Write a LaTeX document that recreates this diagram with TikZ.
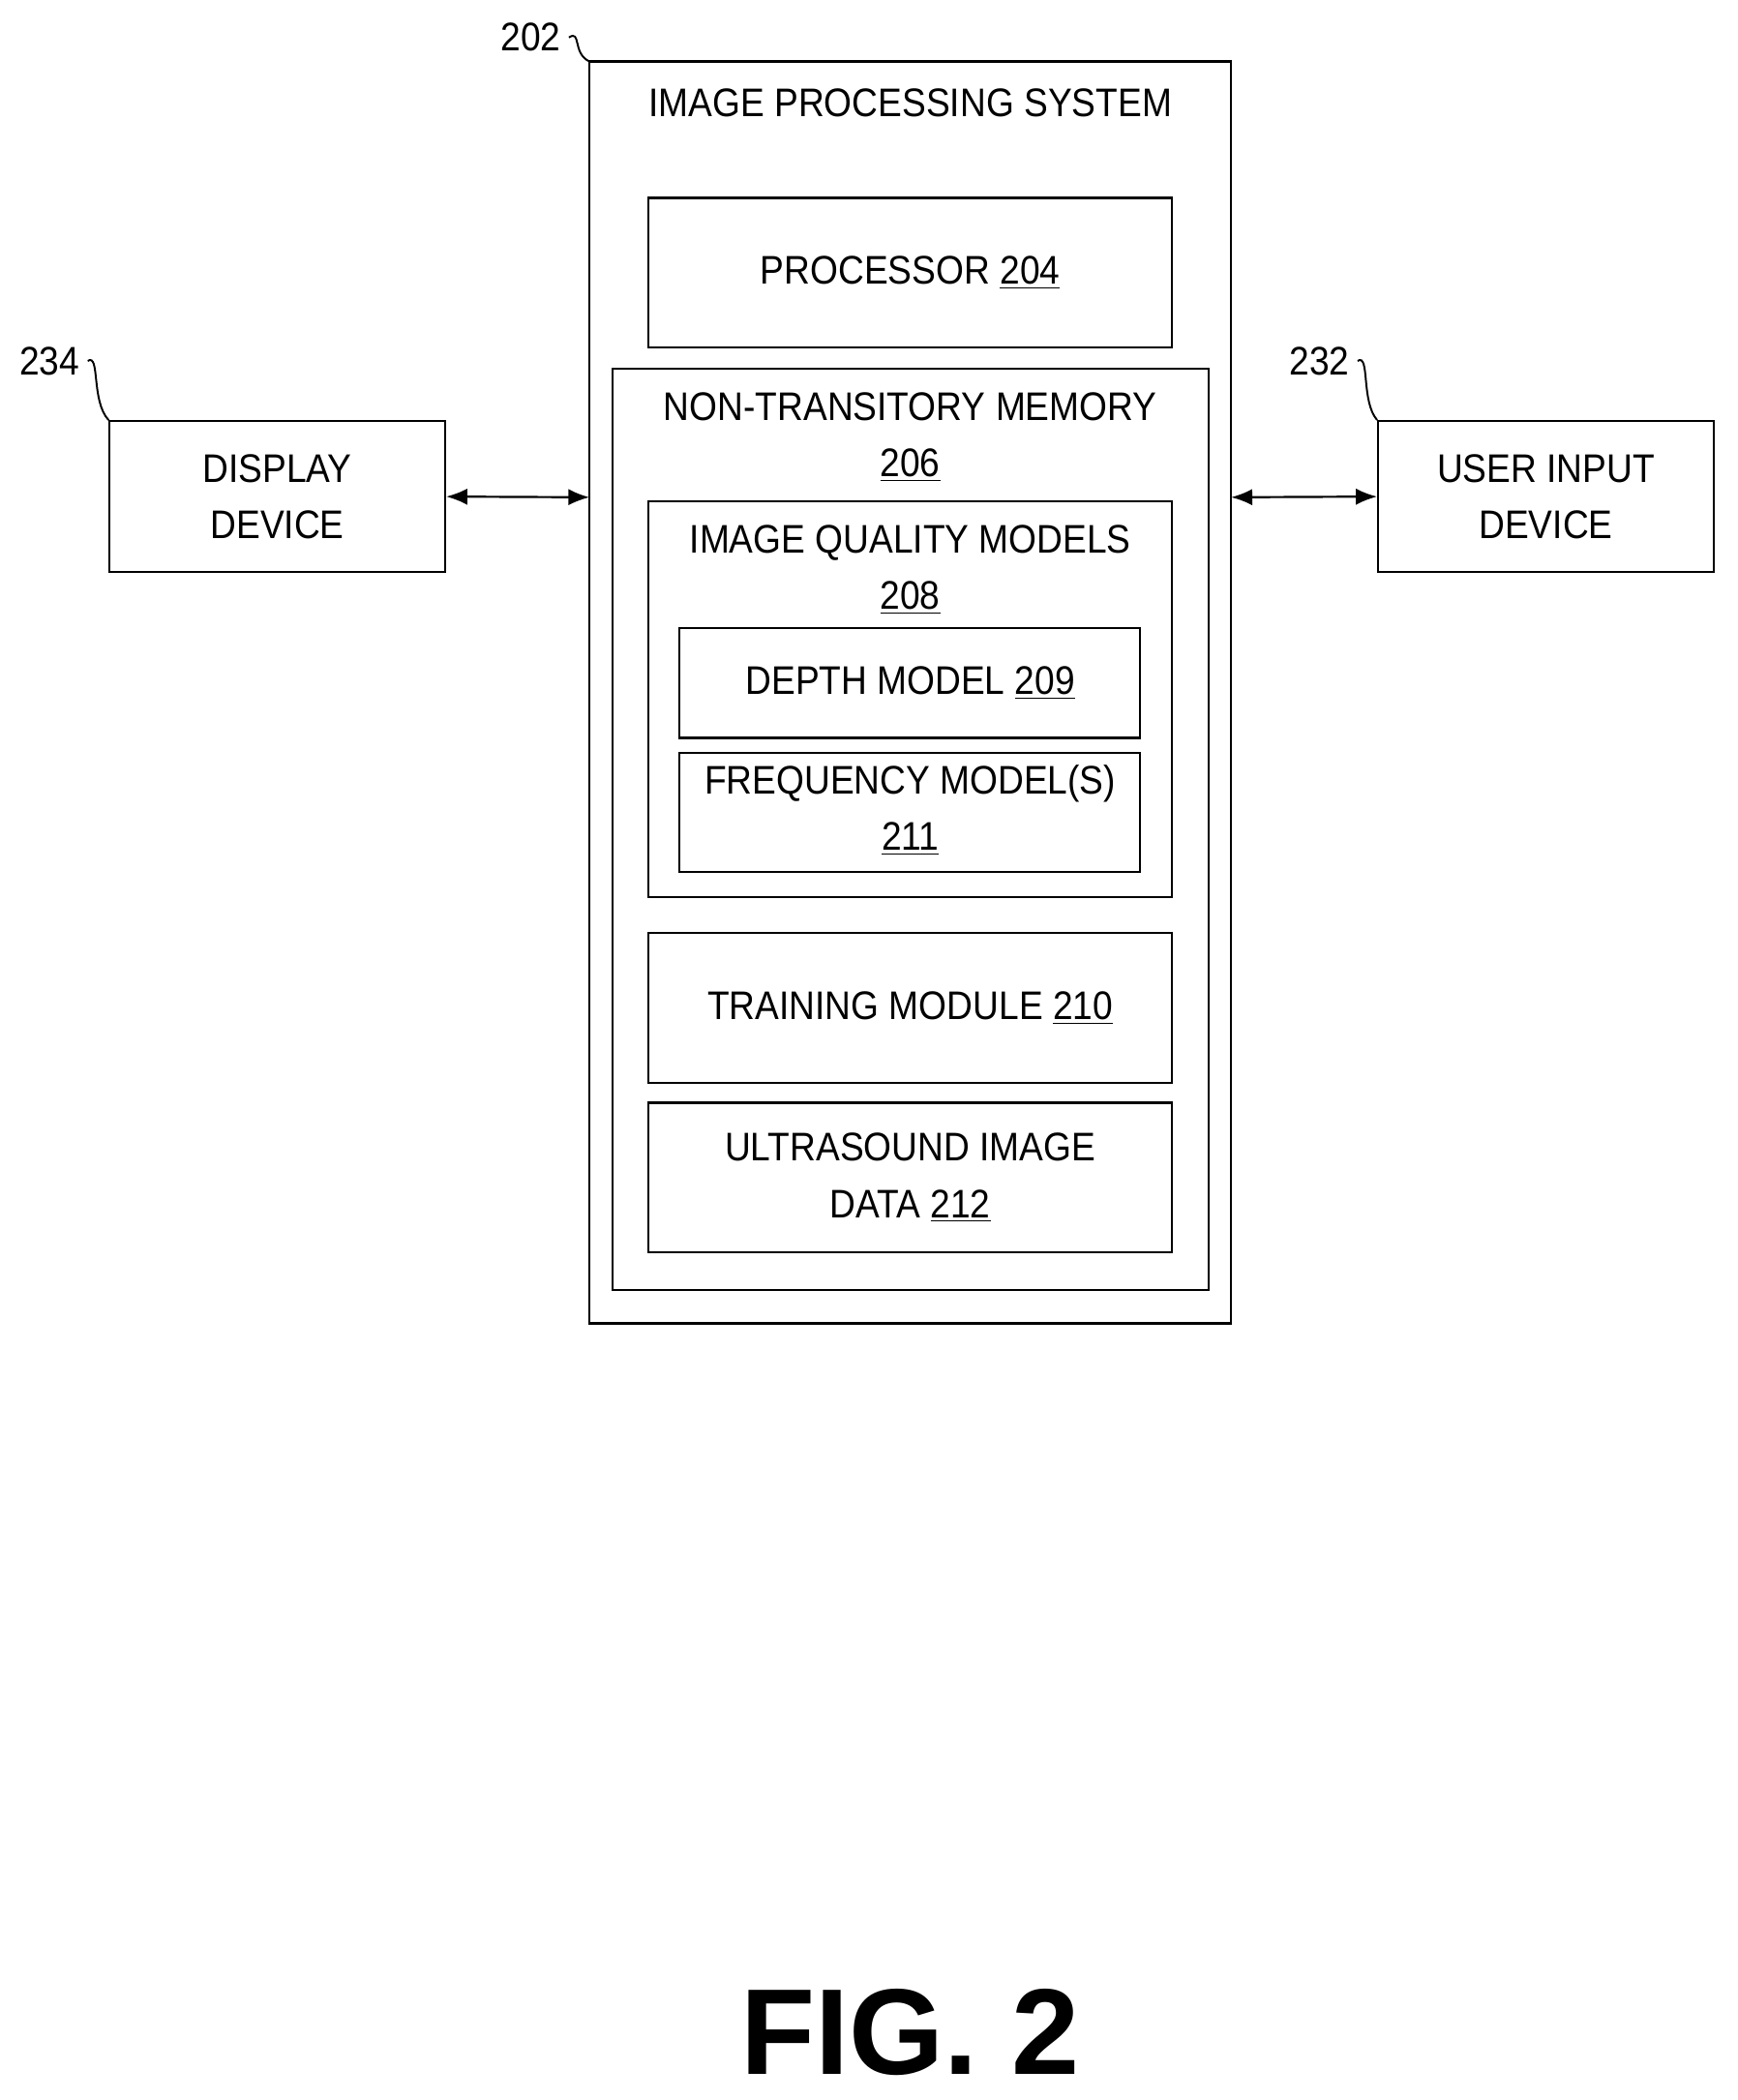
\documentclass[tikz,border=0pt]{standalone}
\usepackage{fontspec}
\setmainfont{Liberation Sans}
\newfontfamily\narrowsans[FakeStretch=0.9]{Liberation Sans}
\usetikzlibrary{positioning,arrows.meta}
\tikzset{
  blk/.style={draw, line width=0.9pt, inner sep=0pt},
  txt/.style={font=\narrowsans\fontsize{17}{24}\selectfont, align=center},
  lead/.style={line width=0.8pt},
  dbl/.style={line width=0.9pt, {Latex[length=9pt,width=7pt]}-{Latex[length=9pt,width=7pt]}}
}
\begin{document}
\begin{tikzpicture}[x=0.02cm,y=-0.02cm]
  \useasboundingbox (0,0) rectangle (1300,1571);

  % outer system
  \draw[blk] (441,46) rectangle (921,990);
  \node[txt] (title) at (681,77) {IMAGE PROCESSING SYSTEM};

  \draw[blk] (485,148) rectangle (877,260);
  \node[txt] (proc) at (681,204) {PROCESSOR \underline{204}};

  % memory
  \draw[blk] (458,276) rectangle (904,965);
  \node[txt] (mem) at (681,327) {NON-TRANSITORY MEMORY\\\underline{206}};

  \draw[blk] (485,375) rectangle (877,671);
  \node[txt] (iqm) at (681,426) {IMAGE QUALITY MODELS\\\underline{208}};

  \draw[blk] (508,470) rectangle (853,552);
  \node[txt] (depth) at (681,511) {DEPTH MODEL \underline{209}};

  \draw[blk] (508,563) rectangle (853,652);
  \node[txt] (freq) at (681,606) {FREQUENCY MODEL(S)\\\underline{211}};

  \draw[blk] (485,698) rectangle (877,810);
  \node[txt] (train) at (681,754) {TRAINING MODULE \underline{210}};

  \draw[blk] (485,825) rectangle (877,937);
  \node[txt] (usd) at (681,881) {ULTRASOUND IMAGE\\DATA \underline{212}};

  % side devices
  \node[blk, txt, minimum width=251*0.02cm, minimum height=113*0.02cm] (disp) at (207.5,371.5) {DISPLAY\\DEVICE};
  \node[blk, txt, minimum width=251*0.02cm, minimum height=113*0.02cm] (uid) at (1156.5,371.5) {USER INPUT\\DEVICE};

  \coordinate (sysL) at (441,372);
  \coordinate (sysR) at (921,372);
  \draw[dbl] (disp.east) -- (sysL);
  \draw[dbl] (sysR) -- (uid.west);

  % reference numerals
  \node[txt] (n202) at (397,28) {202};
  \node[txt] (n234) at (37,270) {234};
  \node[txt] (n232) at (987,270) {232};
  \draw[lead] (n202.east) .. controls (435,22) and (428,40) .. (441,46);
  \draw[lead] (n234.east) .. controls (75,264) and (68,300) .. (disp.north west);
  \draw[lead] (n232.east) .. controls (1025,264) and (1018,300) .. (uid.north west);

  \node[font=\fontsize{52}{58}\selectfont\bfseries] (fig) at (681,1520) {FIG. 2};
\end{tikzpicture}
\end{document}
